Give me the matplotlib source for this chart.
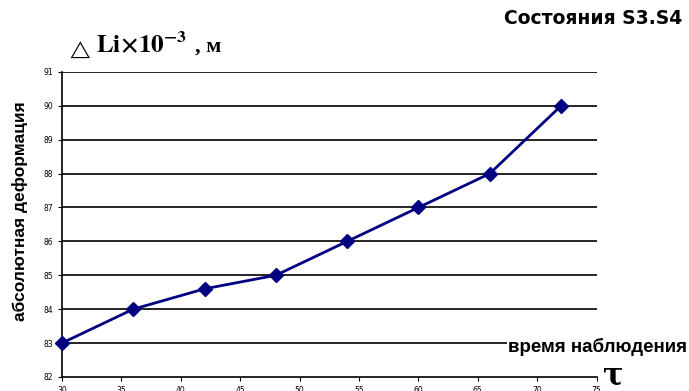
import numpy as np
import matplotlib.pyplot as plt

# observation time and absolute deformation (x10^-3 m)
time = [30, 36, 42, 48, 54, 60, 66, 72]
deform = [83, 84, 84.6, 85, 86, 87, 88, 90]

x_ticks = [30, 35, 40, 45, 50, 55, 60, 65, 70, 75]
y_ticks = [82, 83, 84, 85, 86, 87, 88, 89, 90, 91]


def main():
	plt.rcParams['mathtext.fontset'] = 'stix'
	fig = plt.figure(figsize=(6.89, 3.91), dpi=100)
	ax = fig.add_axes([0.09, 0.036, 0.776, 0.78])

	ax.set_xlim(30, 75)
	ax.set_ylim(82, 91)
	ax.set_xticks(x_ticks)
	ax.set_yticks(y_ticks)
	ax.tick_params(labelsize=5.5, length=3, width=0.8, colors='black')
	ax.tick_params(axis='x', pad=3.5)

	# horizontal grid lines
	for v in y_ticks[1:]:
		ax.axhline(v, color='black', linewidth=1.2, zorder=1)

	ax.plot(time, deform, color='#000080', linewidth=2, marker='D',
		markersize=7, zorder=3, clip_on=False)

	for s in ['top', 'right']:
		ax.spines[s].set_visible(False)
	ax.spines['left'].set_linewidth(1.2)
	ax.spines['bottom'].set_linewidth(1.2)

	fig.text(0.99, 0.953, "Состояния S3.S4", fontsize=13.5, fontweight='bold',
		family='DejaVu Sans', ha='right', va='center')
	fig.text(0.097, 0.872, r"$\triangle$", fontsize=13, ha='left', va='center')
	fig.text(0.14, 0.885, r"$\mathbf{Li\!\times\! 10^{-3}}$", fontsize=18,
		ha='left', va='center')
	fig.text(0.283, 0.88, ", м", fontsize=16, fontweight='bold',
		family='Liberation Serif', ha='left', va='center')
	fig.text(0.029, 0.46, "абсолютная деформация", fontsize=12.5, fontweight='bold',
		family='Liberation Sans', rotation=90, ha='center', va='center')
	fig.text(0.997, 0.113, "время наблюдения", fontsize=13.5, fontweight='bold',
		family='Liberation Sans', ha='right', va='center',
		bbox=dict(facecolor='white', edgecolor='none', pad=1), zorder=5)
	fig.text(0.875, 0.04, "τ", fontsize=22, fontweight='bold',
		family='DejaVu Serif', ha='left', va='center')

	fig.savefig("out.png", dpi=100)


if __name__ == "__main__":
	main()
